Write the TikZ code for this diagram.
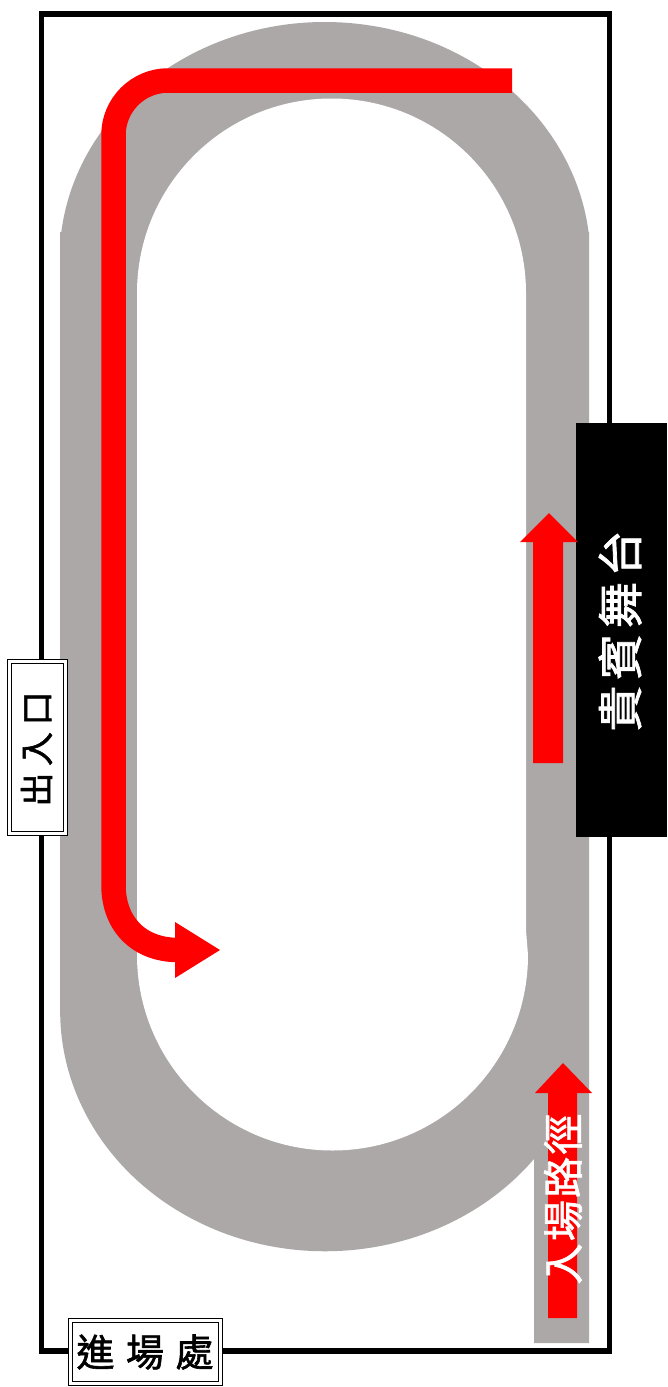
\documentclass[tikz,border=0pt]{standalone}
\usepackage{fontspec}
\newfontfamily\cjk[FakeBold=1.6]{Noto Sans CJK TC}
\definecolor{track}{HTML}{ACA8A8}
\definecolor{arrowred}{HTML}{FF0000}
\tikzset{
  hall/.style={draw=black,line width=5.5pt},
  trackfill/.style={fill=track},
  infield/.style={fill=white},
  redshaft/.style={draw=arrowred,line width=#1,line cap=butt},
  redhead/.style={fill=arrowred},
  signbox/.style={draw=black,line width=1.2pt,fill=white,double=white,double distance=2.2pt,inner sep=0pt},
  stage/.style={fill=black,inner sep=0pt},
  vlabel/.style={rotate=90,inner sep=0pt,anchor=center}
}
\begin{document}
\begin{tikzpicture}[x=1pt,y=1pt]
\useasboundingbox (0,0) rectangle (667,-1387);
\fill[white] (0,0) rectangle (667,-1387);
% track
\path[trackfill] (61.3,-232) arc[start angle=173.24,end angle=6.76,x radius=265.5,y radius=238]
  -- (589,-232) -- (589,-1343) -- (534,-1343) -- (534,-1159)
  arc[start angle=-38,end angle=-180,x radius=265,y radius=240]
  -- (60,-232) -- cycle;
\path[infield] (137,-293) arc[start angle=180,end angle=0,radius=194.5]
  -- (526,-930) -- (528,-955) arc[start angle=0,end angle=-180,radius=195.5] -- cycle;
% hall outline
\draw[hall] (41.5,-14) rectangle (609.5,-1351);
% stage
\node[stage,minimum width=91pt,minimum height=414pt] (stagebox) at (621.5,-630) {};
\node[vlabel,text=white,font=\cjk\fontsize{46}{46}\selectfont] (stagelabel) at (620,-631) {貴\kern5.7pt 賓\kern5.7pt 舞\kern5.7pt 台};
% long arrow
\coordinate (exitstart) at (512,-80.5);
\coordinate (exitend) at (178,-950);
\draw[redshaft=24.5pt] (exitstart) -- (168,-80.5) .. controls (138,-80.5) and (113.5,-105) .. (113.5,-135)
  -- (113.5,-885) .. controls (113.5,-925) and (140,-950) .. (exitend);
\path[redhead] (175,-922) -- (220,-950) -- (175,-978) -- cycle;
% middle arrow
\path[redhead] (533,-763) -- (563,-763) -- (563,-542) -- (578,-542) -- (549,-513) -- (520,-542) -- (533,-542) -- cycle;
% entry arrow
\path[redhead] (548,-1318) -- (577,-1318) -- (577,-1093) -- (592,-1093) -- (563,-1063) -- (535,-1093) -- (548,-1093) -- cycle;
\node[vlabel,text=white,font=\cjk\fontsize{41}{41}\selectfont] (entrylabel) at (563,-1199) {入\kern2.3pt 場\kern2.3pt 路\kern2.3pt 徑};
% signs
\node[signbox,minimum width=56pt,minimum height=172pt] (exitsign) at (37.5,-747.5) {};
\node[vlabel,text=black,font=\cjk\fontsize{34}{34}\selectfont] (exitlabel) at (36.5,-749) {出\kern6.5pt 入\kern6.5pt 口};
\node[signbox,minimum width=150pt,minimum height=63pt] (startsign) at (145.5,-1352) {};
\node[inner sep=0pt,font=\cjk\fontsize{38}{38}\selectfont] (startlabel) at (145,-1352) {進\kern11.5pt 場\kern11.5pt 處};
\end{tikzpicture}
\end{document}
